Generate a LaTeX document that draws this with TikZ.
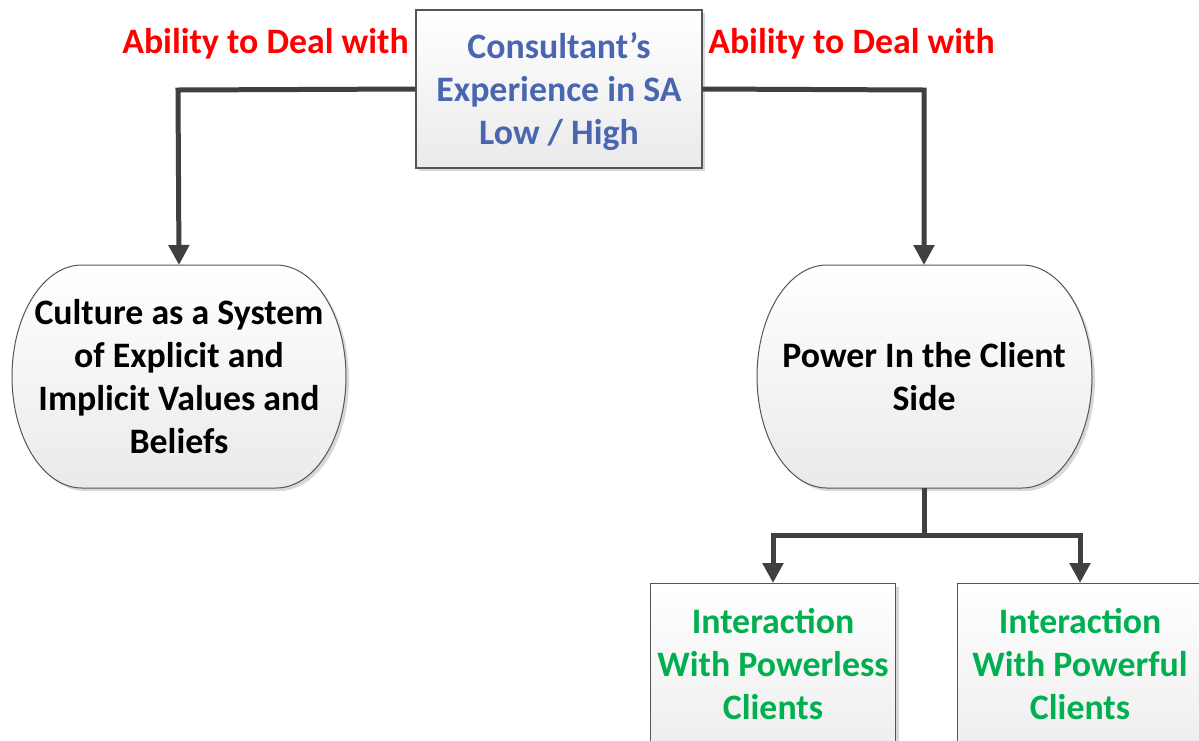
\documentclass[tikz,border=0pt]{standalone}
\usepackage{fontspec}
\setmainfont{Carlito}
\usetikzlibrary{arrows.meta,shadows}
\definecolor{conn}{HTML}{404040}
\definecolor{ttblue}{HTML}{4A66B0}
\definecolor{ttred}{HTML}{FF0000}
\definecolor{ttgreen}{HTML}{00B050}
\definecolor{bord}{HTML}{555555}
\definecolor{fillbot}{HTML}{EAEAEA}
\tikzset{
  txt/.style={font=\fontsize{35.8}{43}\selectfont\bfseries, align=center, inner sep=0pt},
  boxshape/.style={draw=bord, line width=1.2pt, top color=white, bottom color=fillbot,
    drop shadow={shadow xshift=3pt, shadow yshift=-3pt, fill=black!25, opacity=0.6}},
  termshape/.style={boxshape, line width=1pt},
  conline/.style={draw=conn, line width=5pt},
  conarrow/.style={conline, -{Triangle[width=20pt,length=20pt]}},
}
\begin{document}
\begin{tikzpicture}[x=1pt,y=-1pt]
\clip (0,0) rectangle (1199,740);
\fill[white] (0,0) rectangle (1199,740);
% top box
\node[boxshape, minimum width=286pt, minimum height=158pt, inner sep=0pt] (top) at (559,89) {};
\node[txt, text=ttblue] (toptxt) at (559,92) {Consultant’s\\Experience in SA\\Low / High};
% left terminator
\path[termshape] (82,265) -- (276,265) arc[start angle=-90,end angle=90,x radius=70,y radius=111.5] -- (82,488) arc[start angle=90,end angle=270,x radius=70,y radius=111.5] -- cycle;
\coordinate (cul) at (179,265);
\node[txt] (cultxt) at (179,376.5) {Culture as a System\\of Explicit and\\Implicit Values and\\Beliefs};
% right terminator
\path[termshape] (827,265) -- (1022,265) arc[start angle=-90,end angle=90,x radius=70,y radius=111.5] -- (827,488) arc[start angle=90,end angle=270,x radius=70,y radius=111.5] -- cycle;
\coordinate (powtop) at (924,265);
\coordinate (powbot) at (924,488);
\node[txt] (powtxt) at (924,377) {Power In the Client\\Side};
% bottom boxes
\node[boxshape, minimum width=245pt, minimum height=200pt, inner sep=0pt, anchor=north] (lessbox) at (773,583) {};
\node[boxshape, minimum width=245pt, minimum height=200pt, inner sep=0pt, anchor=north] (fulbox) at (1080,583) {};
\node[txt, text=ttgreen] (lesstxt) at (773,664) {Interaction\\With Powerless\\Clients};
\node[txt, text=ttgreen] (fultxt) at (1080,664) {Interaction\\With Powerful\\Clients};
% labels
\node[txt, text=ttred, anchor=base] (lab1) at (265.5,53) {Ability to Deal with};
\node[txt, text=ttred, anchor=base] (lab2) at (851.5,53) {Ability to Deal with};
% connectors
\draw[conarrow] (top.west) -- (178,90) -- (cul);
\draw[conarrow] (top.east) -- (924,90) -- (powtop);
\coordinate (split) at (924,535);
\draw[conline] (powbot) -- (split);
\draw[conarrow] (split) -| (lessbox.north);
\draw[conarrow] (split) -| (fulbox.north);
\end{tikzpicture}
\end{document}
